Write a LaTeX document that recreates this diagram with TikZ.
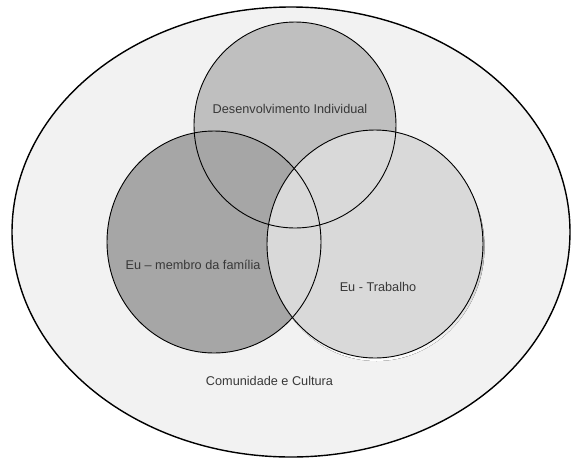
\documentclass[tikz,border=0pt]{standalone}
\usepackage{fontspec}
\setmainfont{Liberation Sans}
\begin{document}
\begin{tikzpicture}[x=1pt,y=-1pt,
  ring/.style={draw=black,line width=0.9pt},
  label/.style={text=black!78,font=\fontsize{12.7}{14}\selectfont,inner sep=0pt}]
\definecolor{bgfill}{HTML}{F2F2F2}
\definecolor{topfill}{HTML}{BFBFBF}
\definecolor{leftfill}{HTML}{A6A6A6}
\definecolor{rightfill}{HTML}{D9D9D9}
\definecolor{shade}{HTML}{DADADA}
\useasboundingbox (0,0) rectangle (571,459);
% community ellipse
\fill[white] (0,0) rectangle (571,459);
\filldraw[fill=bgfill,draw=black,line width=1.4pt] (291,232) ellipse [x radius=279,y radius=225];
% circle fills, in stacking order
\fill[topfill] (295,125) ellipse [x radius=101,y radius=103];
\fill[leftfill] (214,242) ellipse [x radius=107,y radius=111];
\fill[shade] (376.5,247) ellipse [x radius=108,y radius=114];
\fill[rightfill] (375,244) ellipse [x radius=108,y radius=114];
% outlines on top of all fills
\draw[ring] (295,125) ellipse [x radius=101,y radius=103];
\draw[ring] (214,242) ellipse [x radius=107,y radius=111];
\draw[ring] (375,244) ellipse [x radius=108,y radius=114];
% labels
\node[label] (ind) at (290,109) {Desenvolvimento Individual};
\node[label] (fam) at (193,265) {Eu – membro da família};
\node[label] (trab) at (378,287) {Eu - Trabalho};
\node[label] (com) at (269.5,381) {Comunidade e Cultura};
\end{tikzpicture}
\end{document}
